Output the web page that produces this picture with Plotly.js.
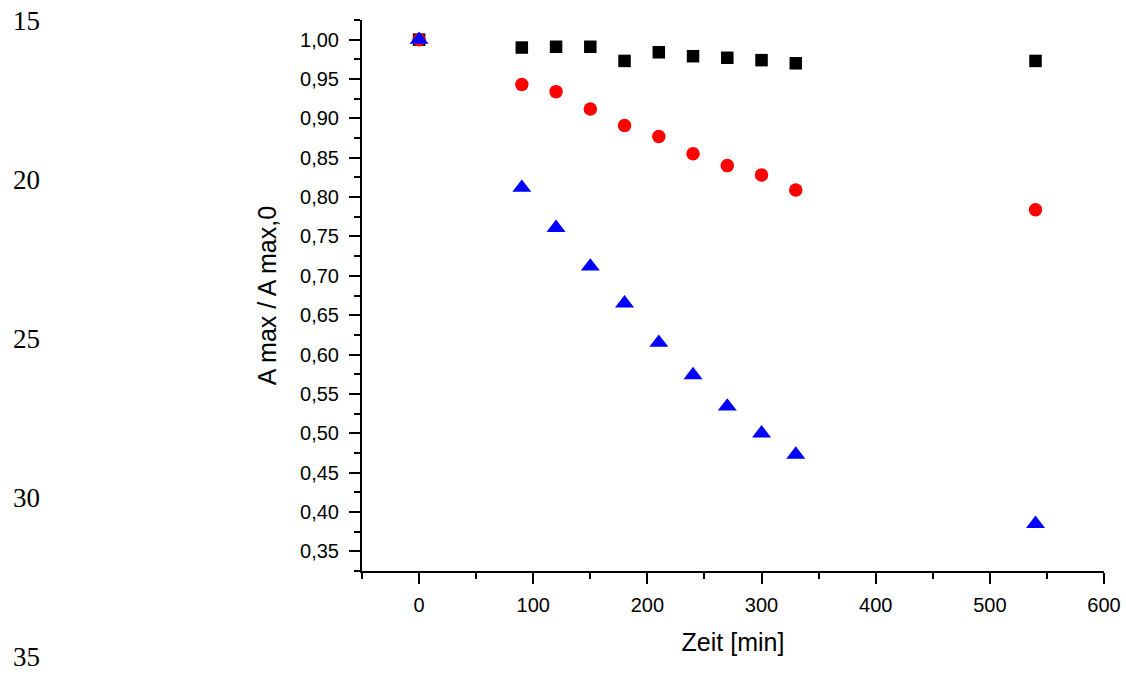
<!DOCTYPE html>
<html>
<head>
<meta charset="utf-8">
<script src="https://cdn.plot.ly/plotly-3.0.1.min.js"></script>
<style>html,body{margin:0;padding:0;background:#fff;}#chart{width:1126px;height:674px;}</style>
</head>
<body>
<div id="chart"></div>
<script>
// Data
const timeMin = [0, 90, 120, 150, 180, 210, 240, 270, 300, 330, 540];
const seriesBlack = [1.000, 0.990, 0.991, 0.991, 0.973, 0.984, 0.979, 0.977, 0.974, 0.970, 0.973];
const seriesRed   = [1.000, 0.943, 0.934, 0.912, 0.891, 0.877, 0.855, 0.840, 0.828, 0.809, 0.784];
const seriesBlue  = [1.000, 0.812, 0.761, 0.712, 0.665, 0.615, 0.574, 0.534, 0.500, 0.473, 0.385];
const lineNumbers = ['15', '20', '25', '30', '35'];
const lineNumberY = [0.998, 0.7096, 0.421, 0.1325, -0.156];
const xTitle = 'Zeit [min]';
const yTitle = 'A max / A max,0';

const traces = [
  {x: timeMin, y: seriesBlack, type: 'scatter', mode: 'markers',
   marker: {symbol: 'square', size: 12.5, color: '#000000'}},
  {x: timeMin, y: seriesRed, type: 'scatter', mode: 'markers',
   marker: {symbol: 'circle', size: 13.5, color: '#ff0000'}},
  {x: timeMin, y: seriesBlue, type: 'scatter', mode: 'markers',
   marker: {symbol: 'triangle-up', size: 16.5, color: '#0000ff'}}
];

const annotations = lineNumbers.map((t, i) => ({
  text: t, xref: 'paper', yref: 'paper', x: (11 - 362) / 742, y: lineNumberY[i],
  xanchor: 'left', yanchor: 'middle', showarrow: false,
  font: {family: 'Liberation Serif, Times New Roman, serif', size: 27, color: '#000'}
}));

const axisFont = {family: 'Liberation Sans, Arial, sans-serif', size: 20, color: '#000'};
const titleFont = {family: 'Liberation Sans, Arial, sans-serif', size: 25, color: '#000'};

const layout = {
  width: 1126, height: 674,
  margin: {l: 362, r: 22, t: 20, b: 103, pad: 0},
  paper_bgcolor: '#ffffff', plot_bgcolor: '#ffffff',
  showlegend: false,
  separators: ',.',
  xaxis: {
    range: [-50, 600], tick0: 0, dtick: 100, showgrid: false, zeroline: false,
    showline: true, linecolor: '#000', linewidth: 2,
    ticks: 'outside', ticklen: 11, tickwidth: 2, tickcolor: '#000',
    minor: {dtick: 50, tick0: 0, ticks: 'outside', ticklen: 6, tickwidth: 2, tickcolor: '#000', showgrid: false},
    tickfont: axisFont, ticklabelstandoff: 4,
    title: {text: xTitle, font: titleFont, standoff: 18}
  },
  yaxis: {
    range: [0.325, 1.025], tick0: 0, dtick: 0.05, tickformat: '.2f', showgrid: false, zeroline: false,
    showline: true, linecolor: '#000', linewidth: 2,
    ticks: 'outside', ticklen: 11, tickwidth: 2, tickcolor: '#000',
    minor: {dtick: 0.025, tick0: 0, ticks: 'outside', ticklen: 6, tickwidth: 2, tickcolor: '#000', showgrid: false},
    tickfont: axisFont, ticklabelstandoff: 6,
    title: {text: yTitle, font: titleFont, standoff: 16}
  },
  annotations: annotations
};

Plotly.newPlot('chart', traces, layout, {displayModeBar: false, staticPlot: true});
</script>
</body>
</html>
